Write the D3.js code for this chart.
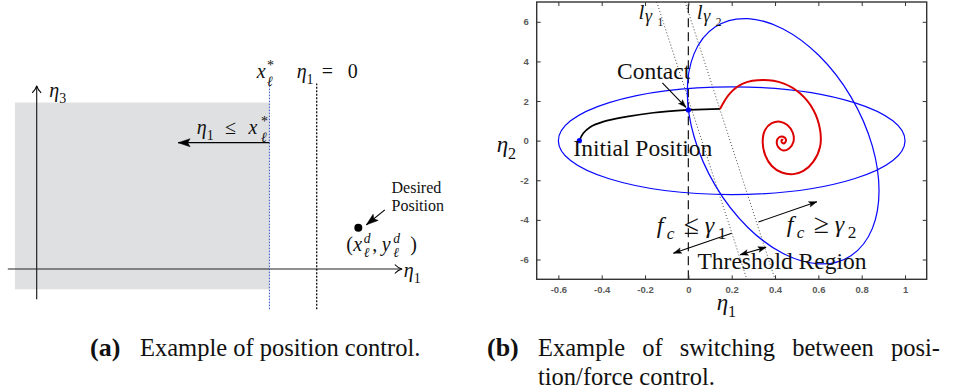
<!DOCTYPE html>
<html>
<head>
<meta charset="utf-8">
<script src="https://cdn.jsdelivr.net/npm/d3@7"></script>
<style>
  body { margin: 0; background: #fff; }
  svg { display: block; }
  text { font-family: "Liberation Serif", "Times New Roman", serif; fill: #111; }
  .tick text { font-family: "Liberation Sans", Arial, sans-serif; fill: #5a5a5a; }
</style>
</head>
<body>
<svg id="fig" width="956" height="391" font-family="Liberation Serif"></svg>
<script>
// ---- panel (b) data ----
const xTicks = [-0.6, -0.4, -0.2, 0, 0.2, 0.4, 0.6, 0.8, 1];
const yTicks = [-6, -4, -2, 0, 2, 4, 6];
const xDomain = [-0.7, 1.1];
const yDomain = [-7, 7];

const initialPos = [-0.503, 0];
const contactPos = [0, 1.55];

// free motion until contact
const approachPath = [[-0.503, 0], [-0.485, 0.37], [-0.454, 0.68], [-0.392, 0.96], [-0.284, 1.21],
  [-0.162, 1.41], [0, 1.55]];
// sliding along the constraint until the force threshold
const slidePath = [[0, 1.55], [0.146, 1.6]];
// force controlled part
const forcePath = [[0.146, 1.6], [0.192, 2.39], [0.254, 2.89], [0.346, 3.06], [0.438, 2.89], [0.515, 2.39],
  [0.577, 1.55], [0.608, 0.54], [0.608, -0.30], [0.577, -1.06], [0.531, -1.53], [0.485, -1.69],
  [0.431, -1.61], [0.385, -1.28], [0.354, -0.72], [0.343, -0.05], [0.354, 0.54], [0.385, 0.88],
  [0.423, 0.96], [0.457, 0.79], [0.482, 0.40], [0.485, -0.05], [0.466, -0.38], [0.438, -0.50],
  [0.415, -0.33], [0.408, -0.05], [0.419, 0.17], [0.438, 0.20], [0.451, 0.04], [0.443, -0.13],
  [0.431, -0.08], [0.431, 0.04], [0.438, 0.03]];

// level sets (blue ellipses): centre, then the two conjugate semi-axes
const ellipseWide = [[0.20, 0], [0.80, 0], [0, 2.72]];
const ellipseTilted = [[0.4375, -0.03], [0.4425, -2.5], [0, 5.67]];

// threshold lines l_gamma1, l_gamma2 (top point, bottom point)
const gammaLines = [
  [[-0.146, 7], [0.27, -7]],
  [[-0.015, 7], [0.40, -7]]
];

// ---- panel (a) schematic values ----
const xStar = -1;
const desired = [0.88, 0.87];
const regionX = [-6.38, -1];
const regionY = [-0.43, 3.52];
const eta3AxisX = -5.92;
const eta1AxisSpan = [-6.53, 1.8];
const eta3AxisSpan = [-0.64, 3.87];
const guideSpan = [-0.85, 3.92];
const leftArrowTo = -2.93;
const leftArrowY = 2.67;

const svg = d3.select('#fig');
const defs = svg.append('defs');

function addMarker(id, d, filled, w) {
  defs.append('marker')
    .attr('id', id)
    .attr('viewBox', '-14 -7 16 14')
    .attr('refX', 0).attr('refY', 0)
    .attr('markerWidth', 16).attr('markerHeight', 14)
    .attr('markerUnits', 'userSpaceOnUse')
    .attr('orient', 'auto-start-reverse')
    .append('path')
    .attr('d', d)
    .attr('fill', filled ? '#000' : 'none')
    .attr('stroke', '#000')
    .attr('stroke-width', w)
    .attr('stroke-linejoin', 'round');
}
addMarker('headBig', 'M0,0 L-12,-4 L-9.5,0 L-12,4 Z', true, 0.5);
addMarker('headSmall', 'M0,0 L-8,-2.8 L-6.3,0 L-8,2.8 Z', true, 0.4);
addMarker('headOpen', 'M-7,-4.5 C-5,-2.2 -2.2,-0.7 0,0 C-2.2,0.7 -5,2.2 -7,4.5', false, 1.1);

// tiny helper for math-like labels: pieces with italic / sub / sup shifts
function mathText(g, x, y, size, pieces) {
  const t = g.append('text').attr('x', x).attr('y', y).attr('font-size', size)
    .attr('font-family', 'Liberation Serif');
  let shift = 0;
  pieces.forEach(p => {
    const s = p.shift || 0;
    const ts = t.append('tspan').attr('dy', (s - shift) * size).text(p.t);
    shift = s;
    if (p.it) ts.attr('font-style', 'italic');
    if (p.scale) ts.attr('font-size', size * p.scale);
    if (p.x != null) ts.attr('x', p.x);
  });
  return t;
}

// =================== panel (a) ===================
const ga = svg.append('g');
const xa = d3.scaleLinear().domain([0, 1]).range([316.7, 364]);
const ya = d3.scaleLinear().domain([0, 1]).range([269, 221.7]);

ga.append('rect')
  .attr('x', xa(regionX[0])).attr('y', ya(regionY[1]))
  .attr('width', xa(regionX[1]) - xa(regionX[0]))
  .attr('height', ya(regionY[0]) - ya(regionY[1]))
  .attr('fill', '#dfe0e2');

ga.append('line')
  .attr('x1', xa(eta1AxisSpan[0])).attr('x2', xa(eta1AxisSpan[1]))
  .attr('y1', ya(0)).attr('y2', ya(0))
  .attr('stroke', '#222').attr('stroke-width', 1.2)
  .attr('marker-end', 'url(#headOpen)');

ga.append('line')
  .attr('x1', xa(eta3AxisX)).attr('x2', xa(eta3AxisX))
  .attr('y1', ya(eta3AxisSpan[0])).attr('y2', ya(eta3AxisSpan[1]))
  .attr('stroke', '#222').attr('stroke-width', 1.2)
  .attr('marker-end', 'url(#headOpen)');

ga.append('line')
  .attr('x1', xa(xStar)).attr('x2', xa(xStar))
  .attr('y1', ya(guideSpan[0])).attr('y2', ya(guideSpan[1]))
  .attr('stroke', '#3050c8').attr('stroke-width', 1).attr('stroke-dasharray', '1.6,1.4');

ga.append('line')
  .attr('x1', xa(0)).attr('x2', xa(0))
  .attr('y1', ya(guideSpan[0])).attr('y2', ya(guideSpan[1]))
  .attr('stroke', '#111').attr('stroke-width', 1.3).attr('stroke-dasharray', '2,1.5');

ga.append('line')
  .attr('x1', xa(xStar)).attr('x2', xa(leftArrowTo))
  .attr('y1', ya(leftArrowY)).attr('y2', ya(leftArrowY))
  .attr('stroke', '#000').attr('stroke-width', 1.3)
  .attr('marker-end', 'url(#headBig)');

ga.append('circle')
  .attr('cx', xa(desired[0])).attr('cy', ya(desired[1])).attr('r', 4)
  .attr('fill', '#000');

ga.append('line')
  .attr('x1', xa(desired[0]) + 26.5).attr('y1', ya(desired[1]) - 18)
  .attr('x2', xa(desired[0]) + 8).attr('y2', ya(desired[1]) - 3)
  .attr('stroke', '#000').attr('stroke-width', 1.2)
  .attr('marker-end', 'url(#headBig)');

// labels (a)
const sA = 20;
mathText(ga, xa(xStar) - 12.6, 78.3, sA, [
  { t: 'x', it: true },
  { t: '*', x: xa(xStar) - 2.5, shift: -0.42, scale: 0.7 },
  { t: 'ℓ', it: true, x: xa(xStar) - 2.5, shift: 0.38, scale: 0.7 }
]);
mathText(ga, xa(0) - 20, 78.3, sA, [
  { t: 'η', it: true },
  { t: '1', shift: 0.3, scale: 0.7 },
  { t: '=', x: xa(0) + 5, shift: 0 },
  { t: '0', x: xa(0) + 31 }
]);
mathText(ga, xa(xStar) - 72.6, 134, sA, [
  { t: 'η', it: true },
  { t: '1', shift: 0.3, scale: 0.7 },
  { t: '≤', x: xa(xStar) - 44.5, shift: 0 },
  { t: 'x', it: true, x: xa(xStar) - 21 },
  { t: '*', x: xa(xStar) - 8.5, shift: -0.42, scale: 0.7 },
  { t: 'ℓ', it: true, x: xa(xStar) - 8.5, shift: 0.38, scale: 0.7 }
]);
mathText(ga, xa(eta3AxisX) + 12.6, 97, sA, [
  { t: 'η', it: true },
  { t: '3', shift: 0.3, scale: 0.7 }
]);
mathText(ga, xa(eta1AxisSpan[1]) + 2, 276.5, sA, [
  { t: 'η', it: true },
  { t: '1', shift: 0.3, scale: 0.7 }
]);
const desiredText = ga.append('text').attr('x', 391.5).attr('y', 192.8).attr('font-size', 16);
desiredText.append('tspan').text('Desired');
desiredText.append('tspan').attr('x', 391.5).attr('dy', 18).text('Position');

const dx0 = xa(desired[0]);
mathText(ga, dx0 - 12, 251, 20, [
  { t: '(' },
  { t: 'x', it: true, x: dx0 - 5 },
  { t: 'd', it: true, x: dx0 + 5.5, shift: -0.42, scale: 0.68 },
  { t: 'ℓ', it: true, x: dx0 + 5.5, shift: 0.3, scale: 0.68 },
  { t: ',', x: dx0 + 14, shift: 0 },
  { t: 'y', it: true, x: dx0 + 23.5 },
  { t: 'd', it: true, x: dx0 + 35, shift: -0.42, scale: 0.68 },
  { t: 'ℓ', it: true, x: dx0 + 35, shift: 0.3, scale: 0.68 },
  { t: ')', x: dx0 + 52, shift: 0 }
]);

// =================== panel (b) ===================
const gb = svg.append('g');
const x = d3.scaleLinear().domain(xDomain).range([536.7, 926.7]);
const y = d3.scaleLinear().domain(yDomain).range([279.3, 2]);

gb.append('defs').append('clipPath').attr('id', 'plotClip')
  .append('rect')
  .attr('x', x(xDomain[0])).attr('y', y(yDomain[1]))
  .attr('width', x(xDomain[1]) - x(xDomain[0]))
  .attr('height', y(yDomain[0]) - y(yDomain[1]));

const line = d3.line().x(d => x(d[0])).y(d => y(d[1]));
const plot = gb.append('g').attr('clip-path', 'url(#plotClip)');

gammaLines.forEach(seg => {
  plot.append('path').attr('d', line(seg))
    .attr('fill', 'none').attr('stroke', '#333').attr('stroke-width', 0.9)
    .attr('stroke-dasharray', '1,2.2');
});

plot.append('path').attr('d', line([[0, yDomain[0]], [0, yDomain[1]]]))
  .attr('fill', 'none').attr('stroke', '#222').attr('stroke-width', 1.3)
  .attr('stroke-dasharray', '9,5');

// unit circle mapped through the scales onto each ellipse
const kx = x(1) - x(0), ky = y(0) - y(1);
[ellipseWide, ellipseTilted].forEach(([c, u, v]) => {
  plot.append('circle').attr('cx', 0).attr('cy', 0).attr('r', 1)
    .attr('transform', `matrix(${kx * u[0]},${-ky * u[1]},${kx * v[0]},${-ky * v[1]},${x(c[0])},${y(c[1])})`)
    .attr('vector-effect', 'non-scaling-stroke')
    .attr('fill', 'none').attr('stroke', '#0a0aff').attr('stroke-width', 1.25);
});

const smooth = d3.line().x(d => x(d[0])).y(d => y(d[1])).curve(d3.curveCatmullRom.alpha(0.5));
plot.append('path').attr('d', smooth(approachPath))
  .attr('fill', 'none').attr('stroke', '#000').attr('stroke-width', 1.7);
plot.append('path').attr('d', line(slidePath))
  .attr('fill', 'none').attr('stroke', '#000').attr('stroke-width', 1.7);
plot.append('path').attr('d', smooth(forcePath))
  .attr('fill', 'none').attr('stroke', '#dd0000').attr('stroke-width', 2)
  .attr('stroke-linejoin', 'round');

[initialPos, contactPos].forEach(p => {
  plot.append('circle').attr('cx', x(p[0])).attr('cy', y(p[1])).attr('r', 2.6).attr('fill', '#0000ff');
});

// axes, ticks pointing inward
const axB = gb.append('g').attr('transform', `translate(0,${y(yDomain[0])})`)
  .call(d3.axisBottom(x).tickValues(xTicks).tickFormat(d => String(d)).tickSize(-4).tickSizeOuter(0).tickPadding(7));
const axL = gb.append('g').attr('transform', `translate(${x(xDomain[0])},0)`)
  .call(d3.axisLeft(y).tickValues(yTicks).tickFormat(d => String(d)).tickSize(-4).tickSizeOuter(0).tickPadding(8));
const axT = gb.append('g').attr('transform', `translate(0,${y(yDomain[1])})`)
  .call(d3.axisTop(x).tickValues(xTicks).tickFormat('').tickSize(-4).tickSizeOuter(0));
const axR = gb.append('g').attr('transform', `translate(${x(xDomain[1])},0)`)
  .call(d3.axisRight(y).tickValues(yTicks).tickFormat('').tickSize(-4).tickSizeOuter(0));
[axB, axL, axT, axR].forEach(a => {
  a.selectAll('.domain').remove();
  a.selectAll('.tick line').attr('stroke', '#333').attr('stroke-width', 1);
  a.selectAll('.tick text').attr('font-size', 9.5).attr('font-weight', 'bold');
});
gb.append('rect')
  .attr('x', x(xDomain[0])).attr('y', y(yDomain[1]))
  .attr('width', x(xDomain[1]) - x(xDomain[0]))
  .attr('height', y(yDomain[0]) - y(yDomain[1]))
  .attr('fill', 'none').attr('stroke', '#333').attr('stroke-width', 1.4);

// annotations (b)
const sB = 23.5;
gb.append('text').attr('x', x(-0.329)).attr('y', y(3.09)).attr('font-size', sB).text('Contact');
gb.append('text').attr('x', x(-0.531)).attr('y', y(-0.80)).attr('font-size', sB).text('Initial Position');
gb.append('text').attr('x', x(0.042)).attr('y', y(-6.47)).attr('font-size', sB).text('Threshold Region');

function arrow(from, to, both) {
  gb.append('path').attr('d', line([from, to]))
    .attr('stroke', '#000').attr('stroke-width', 1.1).attr('fill', 'none')
    .attr('marker-end', 'url(#headSmall)')
    .attr('marker-start', both ? 'url(#headSmall)' : null);
}
arrow([-0.12, 2.92], [-0.011, 1.68]);
arrow([0.2, -4.67], [-0.069, -5.68]);
arrow([0.323, -4.11], [0.593, -3.08]);
arrow([0.239, -5.76], [0.359, -5.38], true);

// l_gamma labels
[['1', -0.23], ['2', 0.039]].forEach(([k, v]) => {
  const lx = x(v);
  mathText(gb, lx, 19, 21, [
    { t: 'l', it: true },
    { t: 'γ', it: true, x: lx + 6.5, shift: 0.12, scale: 0.85 },
    { t: k, x: lx + 19, shift: 0.33, scale: 0.55 }
  ]);
});

// f_c inequalities
[[-0.146, -4.67, '≤', '1'], [0.454, -4.59, '≥', '2']].forEach(([v, w, op, k]) => {
  const fx = x(v);
  mathText(gb, fx, y(w), 24, [
    { t: 'f', it: true },
    { t: 'c', it: true, x: fx + 10, shift: 0.25, scale: 0.72 },
    { t: op, x: fx + 27, shift: 0.04, scale: 1.15 },
    { t: 'γ', it: true, x: fx + 48, shift: 0 },
    { t: k, x: fx + 61, shift: 0.25, scale: 0.72 }
  ]);
});

// axis titles
mathText(gb, x(xDomain[0]) - 40, y(0) + 11.5, 23, [
  { t: 'η', it: true },
  { t: '2', shift: 0.3, scale: 0.7 }
]);
mathText(gb, 716.7, 310, 23, [
  { t: 'η', it: true },
  { t: '1', shift: 0.3, scale: 0.7 }
]);

// =================== captions ===================
const cap = svg.append('g').attr('font-size', 24.5);
cap.append('text').attr('x', 90).attr('y', 356).attr('font-weight', 'bold').attr('font-size', 26).text('(a)');
cap.append('text').attr('x', 140).attr('y', 356).text('Example of position control.');
cap.append('text').attr('x', 487).attr('y', 356).attr('font-weight', 'bold').attr('font-size', 26).text('(b)');
cap.append('text').attr('x', 538).attr('y', 356).attr('word-spacing', 11).text('Example of switching between posi-');
cap.append('text').attr('x', 538).attr('y', 385).text('tion/force control.');
</script>
</body>
</html>
